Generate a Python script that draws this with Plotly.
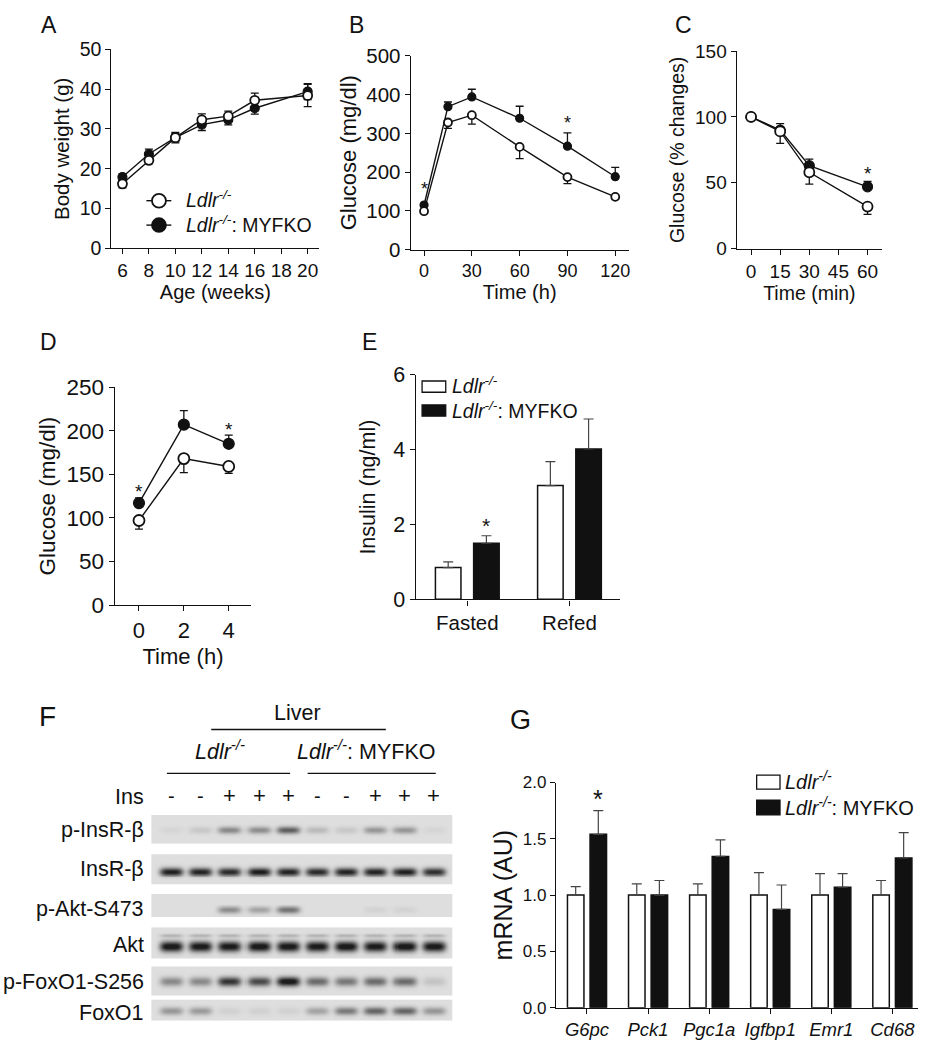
import numpy as np
import plotly.graph_objects as go

W, H = 926, 1050
FONT = "Liberation Sans, Arial, Helvetica, sans-serif"
BLACK = "#111111"

# ---------------- data ----------------
# A: body weight
A_age = [6, 8, 10, 12, 14, 16, 20]
A_ctrl = [16.2, 22.1, 27.8, 32.3, 33.2, 37.2, 38.4]
A_ctrl_err = [1.0, 0.8, 1.0, 1.5, 1.3, 1.8, 2.8]
A_ko = [17.9, 23.7, 27.8, 31.1, 32.3, 35.2, 39.4]
A_ko_err = [0.8, 1.2, 1.3, 1.5, 1.3, 1.5, 2.0]
A_xticks = [6, 8, 10, 12, 14, 16, 18, 20]

# B: glucose tolerance
B_time = [0, 15, 30, 60, 90, 120]
B_ctrl = [99, 328, 347, 265, 187, 136]
B_ctrl_err = [0, 15, 23, 30, 17, 5]
B_ko = [115, 369, 394, 339, 267, 188]
B_ko_err = [0, 12, 20, 31, 34, 24]
B_sig = [0, 4]

# C: insulin tolerance
C_time = [0, 15, 30, 60]
C_ctrl = [100, 89, 58, 32]
C_ctrl_err = [0, 9, 9, 6]
C_ko = [100, 90, 63, 47]
C_ko_err = [0, 5, 5, 4]
C_sig = [3]
C_xticks = [0, 15, 30, 45, 60]

# D: glucose after refeeding
D_time = [0, 2, 4]
D_ctrl = [97, 168, 159]
D_ctrl_err = [10, 16, 8]
D_ko = [117, 207, 185]
D_ko_err = [6, 16, 10]
D_sig = [0, 2]

# E: insulin
E_groups = ["Fasted", "Refed"]
E_ctrl = [0.85, 3.04]
E_ctrl_err = [0.15, 0.64]
E_ko = [1.50, 4.02]
E_ko_err = [0.20, 0.80]
E_sig = [0]

# G: hepatic mRNA
G_genes = ["G6pc", "Pck1", "Pgc1a", "Igfbp1", "Emr1", "Cd68"]
G_ctrl = [1.0, 1.0, 1.0, 1.0, 1.0, 1.0]
G_ctrl_err = [0.075, 0.10, 0.10, 0.20, 0.19, 0.13]
G_ko = [1.54, 1.0, 1.344, 0.873, 1.07, 1.33]
G_ko_err = [0.21, 0.13, 0.146, 0.217, 0.12, 0.225]
G_sig = [0]

# F: western blot (band intensity per lane, 0..1)
F_rows = ["p-InsR-β", "InsR-β", "p-Akt-S473", "Akt", "p-FoxO1-S256", "FoxO1"]
F_ins = ["-", "-", "+", "+", "+", "-", "-", "+", "+", "+"]
F_pInsR = [0.04, 0.10, 0.38, 0.36, 0.58, 0.16, 0.10, 0.32, 0.32, 0.04]
F_InsR = [0.88, 0.86, 0.82, 0.9, 0.86, 0.82, 0.86, 0.86, 0.88, 0.8]
F_pAkt = [0.0, 0.0, 0.36, 0.26, 0.48, 0.0, 0.0, 0.05, 0.05, 0.0]
F_Akt = [0.97, 0.95, 0.93, 0.97, 0.95, 0.93, 0.97, 0.93, 0.97, 0.95]
F_pFoxO1 = [0.38, 0.38, 0.78, 0.68, 0.97, 0.52, 0.46, 0.52, 0.52, 0.12]
F_FoxO1 = [0.32, 0.30, 0.06, 0.06, 0.06, 0.26, 0.45, 0.55, 0.55, 0.32]
F_bands = [F_pInsR, F_InsR, F_pAkt, F_Akt, F_pFoxO1, F_FoxO1]

CTRL = "<i>Ldlr<sup>-/-</sup></i>"
KO = "<i>Ldlr<sup>-/-</sup></i>: MYFKO"

# ---------------- helpers ----------------
def fx(x):
    return x / W

def fy(y):
    return 1 - y / H

fig = go.Figure()
layout = dict(
    width=W, height=H, margin=dict(l=0, r=0, t=0, b=0),
    paper_bgcolor="white", plot_bgcolor="white",
    font=dict(family=FONT, color=BLACK),
    showlegend=False, barmode="overlay",
)
annotations = []
shapes = []


def add_axes(n, xpx, ypx, xrange, yrange, xtick, ytick, xtitle, ytitle,
             xfs, yfs, xtfs, ytfs, xstand, ystand, ytickformat=None,
             xcat=False):
    xa = dict(
        domain=[fx(xpx[0]), fx(xpx[1])], range=xrange, anchor=f"y{n}",
        showline=True, linecolor=BLACK, linewidth=1.4, ticks="outside",
        ticklen=5, tickwidth=1.3, tickcolor=BLACK, showgrid=False,
        zeroline=False, tickfont=dict(size=xtfs, family=FONT, color=BLACK),
        fixedrange=True,
    )
    if xtick is not None:
        xa.update(tickmode="array", tickvals=xtick)
    if xcat:
        xa.update(type="category")
    if xtitle:
        xa["title"] = dict(text=xtitle, font=dict(size=xfs, family=FONT, color=BLACK), standoff=xstand)
    ya = dict(
        domain=[fy(ypx[1]), fy(ypx[0])], range=yrange, anchor=f"x{n}",
        showline=True, linecolor=BLACK, linewidth=1.4, ticks="outside",
        ticklen=5, tickwidth=1.3, tickcolor=BLACK, showgrid=False,
        zeroline=False, tickfont=dict(size=ytfs, family=FONT, color=BLACK),
        tickmode="array", tickvals=ytick, fixedrange=True,
        title=dict(text=ytitle, font=dict(size=yfs, family=FONT, color=BLACK), standoff=ystand),
    )
    if ytickformat:
        ya["tickformat"] = ytickformat
    sx = "xaxis" if n == 1 else f"xaxis{n}"
    sy = "yaxis" if n == 1 else f"yaxis{n}"
    layout[sx] = xa
    layout[sy] = ya


def ref(n):
    return ("x" if n == 1 else f"x{n}"), ("y" if n == 1 else f"y{n}")


def add_lines(n, x, yc, ec, yk, ek, msize, sym_err=False):
    xr, yr = ref(n)
    zero = [0] * len(x)
    if sym_err:
        e_c = dict(type="data", array=ec, symmetric=True)
        e_k = dict(type="data", array=ek, symmetric=True)
    else:
        e_c = dict(type="data", array=zero, arrayminus=ec, symmetric=False)
        e_k = dict(type="data", array=ek, arrayminus=zero, symmetric=False)
    for e in (e_c, e_k):
        e.update(color=BLACK, thickness=1.3, width=4)
    fig.add_trace(go.Scatter(
        x=x, y=yk, mode="lines+markers", xaxis=xr, yaxis=yr, error_y=e_k,
        line=dict(color=BLACK, width=1.4),
        marker=dict(size=msize, color=BLACK, line=dict(color=BLACK, width=1.2)),
        hoverinfo="skip", cliponaxis=False))
    fig.add_trace(go.Scatter(
        x=x, y=yc, mode="lines+markers", xaxis=xr, yaxis=yr, error_y=e_c,
        line=dict(color=BLACK, width=1.4),
        marker=dict(size=msize, color="white", line=dict(color=BLACK, width=1.8)),
        hoverinfo="skip", cliponaxis=False))


def add_bars(n, cats, yc, ec, yk, ek, width, off):
    xr, yr = ref(n)
    zero = [0] * len(cats)
    fig.add_trace(go.Bar(
        x=cats, y=yc, width=width, offset=-off - width / 2, xaxis=xr, yaxis=yr,
        marker=dict(color="white", line=dict(color=BLACK, width=1.5)),
        error_y=dict(type="data", array=ec, arrayminus=zero, symmetric=False,
                     color="#444444", thickness=1.2, width=5),
        hoverinfo="skip"))
    fig.add_trace(go.Bar(
        x=cats, y=yk, width=width, offset=off - width / 2, xaxis=xr, yaxis=yr,
        marker=dict(color=BLACK, line=dict(color=BLACK, width=1.5)),
        error_y=dict(type="data", array=ek, arrayminus=zero, symmetric=False,
                     color="#444444", thickness=1.2, width=5),
        hoverinfo="skip"))


def star(n, x, y, shift, size=20, xshift=0):
    xr, yr = ref(n)
    annotations.append(dict(x=x, y=y, xref=xr, yref=yr, text="*", showarrow=False,
                            yanchor="middle", yshift=shift, xshift=xshift,
                            font=dict(size=size, family=FONT, color=BLACK)))


def letter(t, x, y, size=23):
    annotations.append(dict(x=fx(x), y=fy(y), xref="paper", yref="paper", text=t,
                            showarrow=False, xanchor="center", yanchor="middle",
                            font=dict(size=size, family=FONT, color=BLACK)))


def text(t, x, y, size, xanchor="left"):
    annotations.append(dict(x=fx(x), y=fy(y), xref="paper", yref="paper", text=t,
                            showarrow=False, xanchor=xanchor, yanchor="middle",
                            font=dict(size=size, family=FONT, color=BLACK)))


def hline(x0, x1, y, w=1.3, color=BLACK):
    shapes.append(dict(type="line", xref="paper", yref="paper", x0=fx(x0), x1=fx(x1),
                       y0=fy(y), y1=fy(y), line=dict(color=color, width=w)))


def rect(x0, x1, y0, y1, fill):
    shapes.append(dict(type="rect", xref="paper", yref="paper", x0=fx(x0), x1=fx(x1),
                       y0=fy(y1), y1=fy(y0), fillcolor=fill,
                       line=dict(color=BLACK, width=1.3)))


def circ(cx, cy, r, fill):
    shapes.append(dict(type="circle", xref="paper", yref="paper", x0=fx(cx - r), x1=fx(cx + r),
                       y0=fy(cy + r), y1=fy(cy - r), fillcolor=fill,
                       line=dict(color=BLACK, width=1.8)))

# ---------------- Panel A ----------------
add_axes(1, (111.7, 320), (38.3, 242), [5.17, 20.88], [0, 50], A_xticks, [0, 10, 20, 30, 40, 50],
         "Age (weeks)", "Body weight (g)", 20, 20.5, 19, 19.5, 3, 4)
add_lines(1, A_age, A_ctrl, A_ctrl_err, A_ko, A_ko_err, 9, sym_err=True)
hline(146.7, 171.7, 193.3, 1.4)
circ(159.3, 193.3, 7, "white")
hline(146.7, 171.7, 218.3, 1.4)
circ(159.3, 218.3, 7, BLACK)
text(CTRL, 184, 192, 19.5)
text(KO, 184, 217, 19.5)
letter("A", 49, 13)

# ---------------- Panel B ----------------
add_axes(2, (411.7, 630), (45, 243.3), [-8.3, 128.4], [0, 500], [0, 30, 60, 90, 120],
         [0, 100, 200, 300, 400, 500], "Time (h)", "Glucose (mg/dl)", 20, 22, 18, 20.5, 3, 3)
add_lines(2, B_time, B_ctrl, B_ctrl_err, B_ko, B_ko_err, 8)
for i in B_sig:
    star(2, B_time[i], B_ko[i] + B_ko_err[i], 10 if B_ko_err[i] else 16, 18)
letter("B", 357, 13)

# ---------------- Panel C ----------------
add_axes(3, (738.3, 884), (40, 242.5), [-7.4, 67.5], [0, 150], C_xticks, [0, 50, 100, 150],
         "Time (min)", "Glucose (% changes)", 19.5, 19.5, 19, 19, 3, 5)
add_lines(3, C_time, C_ctrl, C_ctrl_err, C_ko, C_ko_err, 10)
for i in C_sig:
    star(3, C_time[i], C_ko[i] + C_ko_err[i], 8, 19)
letter("C", 685, 13)

# ---------------- Panel D ----------------
add_axes(4, (115, 251.7), (384.3, 607.5), [-1.08, 5.0], [0, 250], [0, 2, 4],
         [0, 50, 100, 150, 200, 250], "Time (h)", "Glucose (mg/dl)", 22, 22.5, 22, 22.5, 6, 4)
add_lines(4, D_time, D_ctrl, D_ctrl_err, D_ko, D_ko_err, 11)
for i in D_sig:
    star(4, D_time[i], D_ko[i] + D_ko_err[i], 6, 19)
letter("D", 49, 338)

# ---------------- Panel E ----------------
add_axes(5, (416.7, 621.7), (371.7, 601.7), [-0.504, 1.498], [0, 6], None, [0, 2, 4, 6],
         None, "Insulin (ng/ml)", 20, 21.5, 20.5, 21.5, 8, 11, xcat=True)
add_bars(5, E_groups, E_ctrl, E_ctrl_err, E_ko, E_ko_err, 0.25, 0.187)
for i in E_sig:
    star(5, i, E_ko[i] + E_ko_err[i], 10, 21, xshift=19)
rect(423, 446.7, 378, 389.5, "white")
rect(423, 446.7, 402.5, 414, BLACK)
text(CTRL, 451, 382.5, 19.5)
text(KO, 451, 407.5, 19.5)
letter("E", 370, 338)

# ---------------- Panel G ----------------
add_axes(6, (557.3, 920), (789.3, 1020), [-0.506, 5.42], [0, 2], None, [0, 0.5, 1.0, 1.5, 2.0],
         None, "mRNA (AU)", 20, 25, 18.5, 17, 8, 3, ytickformat=".1f", xcat=True)
layout["xaxis6"]["ticktext"] = [f"<i>{g}</i>" for g in G_genes]
layout["xaxis6"]["tickvals"] = G_genes
layout["xaxis6"]["tickmode"] = "array"
add_bars(6, G_genes, G_ctrl, G_ctrl_err, G_ko, G_ko_err, 0.27, 0.185)
for i in G_sig:
    star(6, i, G_ko[i] + G_ko_err[i], 12, 25, xshift=11)
rect(758.3, 781.7, 781.7, 796, "white")
rect(758.3, 781.7, 807.5, 822.5, BLACK)
text(CTRL, 785, 787.5, 20)
text(KO, 785, 814, 20)
letter("G", 522, 725, 27)

# ---------------- Panel F (blot) ----------------
F_x0, F_x1, F_top, F_bot = 151.7, 453.3, 822.7, 1033.3
layout["xaxis7"] = dict(domain=[fx(F_x0), fx(F_x1)], range=[-0.695, 9.63], visible=False,
                        anchor="y7", fixedrange=True)
layout["yaxis7"] = dict(domain=[fy(F_bot), fy(F_top)], range=[F_bot, F_top], visible=False,
                        anchor="x7", fixedrange=True)
strip_top = [822.7, 863.3, 904.0, 938.3, 978.3, 1012.3]
strip_bot = [852.3, 894.0, 927.3, 970.0, 1007.3, 1033.3]
band_y = [838.5, 881.0, 920.5, 957.5, 993.5, 1024.0]
band_h = [3.6, 4.2, 3.6, 5.2, 4.6, 4.0]
label_y = [838.3, 878.3, 919.0, 956.0, 993.3, 1025.0]
xs = np.linspace(-0.695, 9.63, 300)
lanes = np.arange(len(F_ins))
grey = [[0.0, "#f2f2f2"], [0.12, "#dedede"], [0.5, "#888888"], [1.0, "#1c1c1c"]]
for r in range(len(F_rows)):
    ys = np.arange(strip_top[r], strip_bot[r] + 0.01, 1.0)
    prof_y = np.exp(-((ys - band_y[r]) / band_h[r]) ** 2)
    z = np.full((len(ys), len(xs)), 0.12)
    for i, inten in zip(lanes, F_bands[r]):
        prof_x = np.exp(-(np.abs(xs - i) / 0.40) ** 4)
        z += inten * np.outer(prof_y, prof_x)
    if F_rows[r] == "Akt":
        prof_y2 = np.exp(-((ys - 946.5) / 1.8) ** 2)
        for i in lanes:
            z += 0.18 * np.outer(prof_y2, np.exp(-(np.abs(xs - i) / 0.40) ** 4))
    fig.add_trace(go.Heatmap(x=xs, y=ys, z=np.clip(z, 0, 1), colorscale=grey, zmin=0, zmax=1,
                             showscale=False, xaxis="x7", yaxis="y7", hoverinfo="skip"))
    text(F_rows[r], 146, label_y[r], 21.5, xanchor="right")

text("Ins", 146, 804, 21.5, xanchor="right")
for i, s in enumerate(F_ins):
    annotations.append(dict(x=i, y=fy(803), xref="x7", yref="paper", text=s, showarrow=False,
                            xanchor="center", yanchor="middle",
                            font=dict(size=22 if s == "+" else 20, family=FONT, color=BLACK)))
text("Liver", 298.3, 718.5, 21.5, xanchor="center")
hline(211.7, 386.7, 735)
text(CTRL, 220, 756.5, 21.5, xanchor="center")
text(KO, 366.7, 756.5, 21.5, xanchor="center")
hline(167.3, 290.7, 780)
hline(308.3, 436.7, 780)
letter("F", 48, 722, 28)

layout["annotations"] = annotations
layout["shapes"] = shapes
fig.update_layout(**layout)
fig.write_html("out.html", config={"displayModeBar": False},
               post_script="document.body.style.margin='0';document.body.style.overflow='hidden';")
